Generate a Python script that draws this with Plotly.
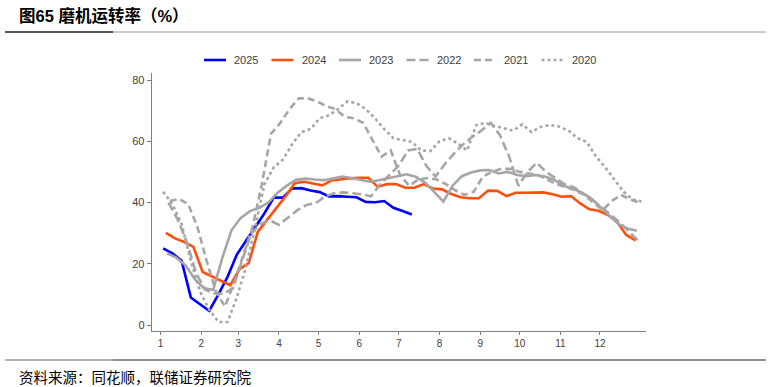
import pandas as pd
import plotly.graph_objects as go

# ---------------- data (weekly, Friday readings) ----------------
years = ["2025", "2024", "2023", "2022", "2021", "2020"]
start_dates = ["2025-01-03", "2024-01-05", "2023-01-06", "2022-01-07", "2021-01-08", "2020-01-03"]

v2025 = [25, 23.4, 21, 9, 6.8, 4.6, 10, 15.8, 23, 27.5, 32, 36.5, 41.6, 41.6, 44.6, 44.7,
         43.9, 43.4, 42, 42.1, 41.9, 41.7, 40.2, 40.1, 40.5, 38.3, 37.2, 36.1]
v2024 = [30.1, 28.3, 27.1, 25.5, 17.3, 15.8, 14.4, 13.0, 18.2, 20.2, 30.5, 34.3, 38, 42,
         46.3, 46.8, 46.2, 45.6, 47.2, 47.6, 47.9, 48.1, 48.1, 45.1, 46, 46, 44.8, 44.8, 46,
         44.6, 44.3, 42.8, 41.7, 41.4, 41.4, 43.9, 43.8, 42.1, 43.2, 43.2, 43.2, 43.3, 42.7,
         41.9, 42.1, 39.7, 37.8, 37.3, 35.9, 33.7, 29.4, 27.6]
v2023 = [23.4, 22, 19.5, 15, 12, 11.5, 22, 31, 35, 37.2, 38.3, 40, 43.2, 45.5, 47.4, 47.8,
         47.5, 47.3, 47.8, 48.5, 48, 47.5, 46.8, 47.3, 48, 48.6, 49.2, 48.4, 46.5, 43.5, 40.3,
         45.5, 48.6, 49.8, 50.5, 50.6, 49.5, 50, 49, 48.6, 49, 48.5, 47.5, 45.5, 44.6, 43.3,
         41.5, 38.6, 35.8, 33, 31.5, 30.8]
v2022 = [40, 34.5, 27, 17, 11.5, 10.3, 10.3, 12, 21, 30, 33, 34.2, 32.7, 35, 37.5, 39.2, 39.8,
         42, 43, 43.3, 43, 42.7, 42, 46, 49, 52, 57, 57.5, 52, 48.5, 52.5, 56, 59, 61.5, 63.5,
         66, 62, 55, 45.5, 50, 53, 50, 48, 46, 45, 43, 41, 38.5, 36, 33.5, 30.5, 27.5]
v2021 = [40.5, 41.2, 39.5, 32, 21, 11, 6, 14, 23, 32, 46, 62.5, 66, 70.5, 74, 74, 73, 71.5,
         70.5, 68, 67.5, 66, 60.5, 55, 57, 49, 45.5, 47.5, 48, 47.5, 46, 44, 42.5, 43.5, 48.5,
         50, 51, 51, 50, 49.5, 49, 47.5, 46, 45, 44, 42.5, 40, 37.5, 40.5, 42.5, 41, 40]
v2020 = [43.5, 39.5, 33, 21, 11, 5, 1, 1, 9, 19, 32, 46, 51.5, 54, 59, 63, 64, 67.5, 68.5,
         70.5, 73, 72.5, 70.5, 67.5, 64, 61, 60.4, 59.8, 57, 56.8, 60, 61, 59.3, 57, 65.3, 66,
         65, 64.2, 63.5, 65.5, 63, 64.7, 65.3, 64.8, 63.5, 61, 59.8, 55, 51.5, 47.5, 43.5, 41,
         40.3]
values = [v2025, v2024, v2023, v2022, v2021, v2020]

month_ticks = [f"2023-{m:02d}-01" for m in range(1, 13)]
month_labels = [str(m) for m in range(1, 13)]
y_ticks = [0, 20, 40, 60, 80]

# ---------------- styles ----------------
colors = ["#0000FF", "#FF4F0F", "#A6A6A6", "#A6A6A6", "#A6A6A6", "#A6A6A6"]
dashes = ["solid", "solid", "solid", "9px,4px", "7px,4px", "dot"]
widths = [2.6, 2.6, 2.6, 2.6, 2.6, 2.6]

W, H = 771, 387
L, R, T, B = 152, 125, 73, 56
PW, PH = W - L - R, H - T - B


def px2x(px):
    return (px - L) / PW


def py2y(py):
    return 1 - (py - T) / PH


base = pd.Timestamp("2023-01-01")
fig = go.Figure()
for name, start, vals, c, d, w in zip(years, start_dates, values, colors, dashes, widths):
    dts = pd.date_range(start, periods=len(vals), freq="7D")
    jan1 = pd.Timestamp(f"{name}-01-01")
    xs = [base + (dt - jan1) for dt in dts]
    fig.add_trace(go.Scatter(x=xs, y=vals, mode="lines", name=name,
                             line=dict(color=c, dash=d, width=w), showlegend=False))

# manual legend
leg_x0 = 204
leg_step = 67.5
leg_y = 60
for i, (name, c, d, w) in enumerate(zip(years, colors, dashes, widths)):
    x0 = leg_x0 + i * leg_step
    fig.add_shape(type="line", xref="paper", yref="paper",
                  x0=px2x(x0), x1=px2x(x0 + 22), y0=py2y(leg_y), y1=py2y(leg_y),
                  line=dict(color=c, dash=d, width=w))
    fig.add_annotation(xref="paper", yref="paper", x=px2x(x0 + 28), y=py2y(leg_y),
                       text=name, showarrow=False, xanchor="left", yanchor="middle",
                       font=dict(family="Liberation Sans, Arial", size=11, color="#404040"))

# title and source
fig.add_annotation(xref="paper", yref="paper", x=px2x(17), y=py2y(15),
                   text="<b>图65 磨机运转率（%）</b>", showarrow=False,
                   xanchor="left", yanchor="middle",
                   font=dict(family="Liberation Sans, Noto Sans CJK SC", size=16.5, color="#000000"))
fig.add_annotation(xref="paper", yref="paper", x=px2x(17), y=py2y(376),
                   text="资料来源：同花顺，联储证券研究院", showarrow=False,
                   xanchor="left", yanchor="middle",
                   font=dict(family="Noto Sans CJK SC", size=14.5, color="#000000"))
# decorative rules
fig.add_shape(type="line", xref="paper", yref="paper", x0=px2x(5), x1=px2x(113),
              y0=py2y(32), y1=py2y(32), line=dict(color="#555555", width=2))
fig.add_shape(type="line", xref="paper", yref="paper", x0=px2x(113), x1=px2x(766),
              y0=py2y(32), y1=py2y(32), line=dict(color="#9a9a9a", width=1))
fig.add_shape(type="line", xref="paper", yref="paper", x0=px2x(5), x1=px2x(113),
              y0=py2y(360), y1=py2y(360), line=dict(color="#9a9a9a", width=1.5))
fig.add_shape(type="line", xref="paper", yref="paper", x0=px2x(113), x1=px2x(766),
              y0=py2y(360), y1=py2y(360), line=dict(color="#222222", width=1.2))

fig.update_layout(
    width=W, height=H,
    margin=dict(l=L, r=R, t=T, b=B),
    paper_bgcolor="white", plot_bgcolor="white",
    showlegend=False,
    xaxis=dict(type="date", range=["2022-12-25 12:00", "2024-01-05"],
               tickvals=month_ticks, ticktext=month_labels,
               showline=True, linecolor="#808080", linewidth=1.3,
               ticks="outside", ticklen=3, tickcolor="#808080",
               showgrid=False, zeroline=False,
               tickfont=dict(family="Liberation Sans, Arial", size=10, color="#404040")),
    yaxis=dict(range=[-1.96, 82.3], tickvals=y_ticks,
               showline=True, linecolor="#808080", linewidth=1.3,
               ticks="outside", ticklen=4, tickcolor="#808080",
               showgrid=False, zeroline=False,
               tickfont=dict(family="Liberation Sans, Arial", size=11, color="#404040")),
)

fig.write_html("out.html", config={"displayModeBar": False, "staticPlot": True})
with open("out.html", encoding="utf-8") as f:
    html = f.read()
html = html.replace("<head>", "<head><style>html,body{margin:0;padding:0;overflow:hidden;}</style>", 1)
with open("out.html", "w", encoding="utf-8") as f:
    f.write(html)
